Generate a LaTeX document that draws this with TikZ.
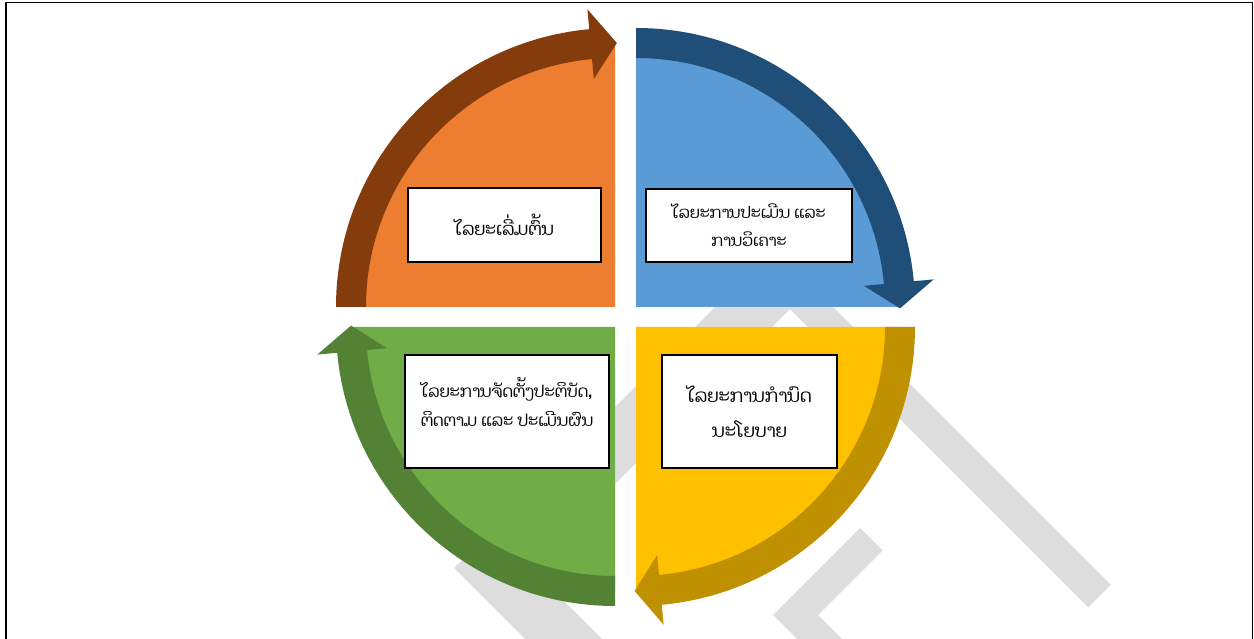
\documentclass[tikz,border=0pt]{standalone}
\usepackage{fontspec}
\newfontfamily\laofont[Script=Lao]{Dhyana}
\definecolor{qorange}{HTML}{ED7D31}
\definecolor{qorangedk}{HTML}{843C0C}
\definecolor{qblue}{HTML}{5B9BD5}
\definecolor{qbluedk}{HTML}{1F4E79}
\definecolor{qyellow}{HTML}{FFC000}
\definecolor{qyellowdk}{HTML}{BF9000}
\definecolor{qgreen}{HTML}{70AD47}
\definecolor{qgreendk}{HTML}{548235}
\definecolor{wmgray}{HTML}{DDDDDD}
\begin{document}
\begin{tikzpicture}[x=0.75pt,y=0.75pt,
  labelbox/.style={draw=black, line width=1.9pt, fill=white, align=center, inner sep=0pt, font=\laofont\fontsize{12}{21}\selectfont},
  bigtext/.style={font=\laofont\fontsize{13.6}{26}\selectfont},
  midtext/.style={font=\laofont\fontsize{13.2}{21}\selectfont},
  grtext/.style={font=\laofont\fontsize{12.3}{21.5}\selectfont},
  wm/.style={fill=wmgray}]
\useasboundingbox (0,0) rectangle (1254,639);
% frame
\draw[line width=1.9pt] (6,-5) -- (6,636.5);
\draw[line width=1.2pt] (5,636.5) -- (1252.5,636.5);
\draw[line width=0.9pt] (1252.5,636.5) -- (1252.5,-5);
% watermark
\draw[wmgray, line width=23.9pt] (760,382.5) -- (1099.5,43);
\fill[wm] (772,389) -- (454,71) -- (536,-11) -- (613,-11) -- (531,71) -- (849,389) -- cycle;
\fill[wm] (860,111) -- (773,24) -- (808,-11) -- (853,-11) -- (818,24) -- (882.5,88.5) -- cycle;
% orange quadrant
\begin{scope}[shift={(615,332)}]
  \fill[qorange] (0,0) -- (180:264) arc[start angle=180,end angle=90,radius=264] -- cycle;
  \fill[qorangedk] (180:279) arc[start angle=180,end angle=95.3,radius=279] -- (95.3:299) -- (89.6:264) -- (95.3:229) -- (95.3:249) arc[start angle=95.3,end angle=180,radius=249] -- cycle;
\end{scope}
% blue quadrant
\begin{scope}[shift={(636,332)}]
  \fill[qblue] (0,0) -- (90:264) arc[start angle=90,end angle=0,radius=264] -- cycle;
  \fill[qbluedk] (90:279) arc[start angle=90,end angle=5.3,radius=279] -- (5.3:299) -- (-0.3:264) -- (5.3:229) -- (5.3:249) arc[start angle=5.3,end angle=90,radius=249] -- cycle;
\end{scope}
% yellow quadrant
\begin{scope}[shift={(636,312)}]
  \fill[qyellow] (0,0) -- (0:264) arc[start angle=0,end angle=-90,radius=264] -- cycle;
  \fill[qyellowdk] (0:279) arc[start angle=0,end angle=-84.7,radius=279] -- (-84.7:299) -- (-90.3:264) -- (-84.7:229) -- (-84.7:249) arc[start angle=-84.7,end angle=0,radius=249] -- cycle;
\end{scope}
% green quadrant
\begin{scope}[shift={(615,312)}]
  \fill[qgreen] (0,0) -- (-90:264) arc[start angle=-90,end angle=-180,radius=264] -- cycle;
  \fill[qgreendk] (-90:279) arc[start angle=-90,end angle=-174.7,radius=279] -- (-174.7:299) -- (-180.3:264) -- (-174.7:229) -- (-174.7:249) arc[start angle=-174.7,end angle=-90,radius=249] -- cycle;
\end{scope}
% label boxes
\node[labelbox, midtext, minimum width=144.75pt, minimum height=55.5pt] (start) at (504.5,414) {ໄລຍະເລີ່ມຕົ້ນ};
\node[labelbox, minimum width=154.5pt, minimum height=54.75pt] (assess) at (749,413.5) {ໄລຍະການປະເມີນ ແລະ\\ການວິເຄາະ};
\node[labelbox, bigtext, minimum width=131.25pt, minimum height=84.75pt] (policy) at (749.5,227.5) {ໄລຍະການກຳນົດ\\ນະໂຍບາຍ};
\node[labelbox, grtext, minimum width=153pt, minimum height=84.75pt, text depth=14pt] (implement) at (507,227.5) {ໄລຍະການຈັດຕັ້ງປະຕິບັດ,\\ຕິດຕາມ ແລະ ປະເມີນຜົນ};
\end{tikzpicture}
\end{document}
